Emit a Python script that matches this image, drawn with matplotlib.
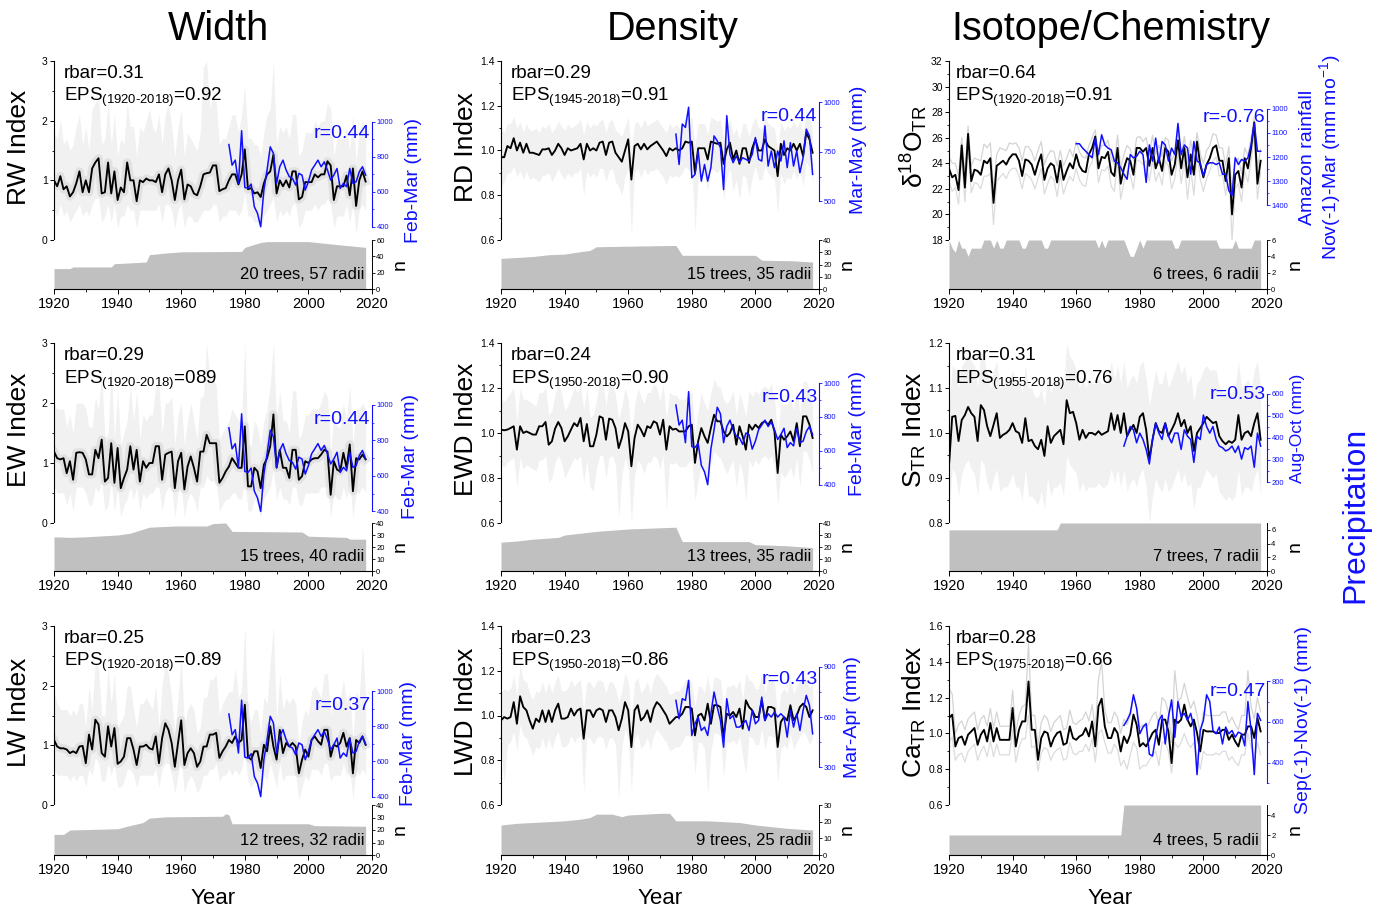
import numpy as np
import matplotlib
matplotlib.use("Agg")
import matplotlib.pyplot as plt
from matplotlib.ticker import MultipleLocator, FixedLocator

plt.rcParams['font.family'] = ['Liberation Sans', 'DejaVu Sans']
plt.rcParams['mathtext.fontset'] = 'custom'
plt.rcParams['mathtext.rm'] = 'Liberation Sans'
plt.rcParams['mathtext.it'] = 'Liberation Sans:italic'
plt.rcParams['mathtext.bf'] = 'Liberation Sans:bold'

YEARS = np.arange(1920, 2019)
PRECIP_YEARS = np.arange(1975, 2019)
AMAZON_YEARS = np.arange(1960, 2019)

# ---- chronologies (mean index, 1920-2018) ----
RW = [1.0, 0.9, 1.07, 0.85, 0.9, 0.73, 0.8, 0.95, 1.15, 0.8,
      1.0, 0.8, 1.2, 1.3, 1.37, 0.78, 0.8, 1.3, 0.78, 1.15,
      0.67, 0.88, 0.8, 1.3, 1.0, 1.0, 0.65, 1.0, 0.97, 1.03,
      1.0, 1.0, 0.97, 1.1, 0.8, 1.1, 1.2, 1.0, 0.67, 1.0,
      1.18, 0.68, 0.93, 0.9, 0.78, 0.75, 0.9, 1.1, 1.12, 1.13,
      1.25, 1.25, 0.82, 0.85, 0.87, 1.0, 1.1, 1.1, 0.93, 1.1,
      1.52, 0.85, 0.87, 0.78, 0.8, 0.72, 0.95, 1.1, 1.15, 1.43,
      0.78, 1.0, 0.9, 1.0, 0.88, 1.15, 1.15, 0.68, 0.72, 0.97,
      0.97, 0.97, 1.1, 1.05, 1.1, 1.1, 1.32, 1.25, 0.67, 0.9,
      0.9, 0.9, 1.08, 0.75, 1.2, 0.57, 1.0, 1.15, 0.98]
RW_HI = [1.8, 1.7, 2.0, 1.6, 1.7, 1.5, 1.6, 1.9, 2.1, 1.6,
         1.9, 1.5, 2.2, 2.3, 2.4, 1.6, 1.7, 2.3, 1.6, 2.1,
         1.4, 1.7, 1.6, 2.3, 1.9, 1.9, 1.4, 1.9, 1.8, 2.0,
         2.2, 1.9, 1.8, 2.1, 1.6, 2.1, 2.3, 1.9, 1.4, 1.9,
         2.2, 1.4, 1.8, 1.7, 1.6, 1.5, 1.8, 2.9, 3.0, 2.2,
         2.4, 2.3, 1.6, 1.7, 1.7, 1.9, 2.1, 2.1, 1.8, 2.1,
         2.6, 1.7, 1.7, 1.6, 1.6, 1.4, 1.8, 2.1, 2.2, 3.0,
         1.6, 1.9, 1.8, 1.9, 1.7, 2.1, 2.1, 1.4, 1.5, 1.8,
         1.8, 1.8, 2.0, 1.9, 2.0, 2.0, 2.3, 2.2, 1.4, 1.7,
         1.7, 1.7, 1.9, 1.5, 2.1, 1.3, 1.8, 2.0, 1.8]
RW_LO = [0.5, 0.4, 0.6, 0.4, 0.5, 0.3, 0.4, 0.5, 0.6, 0.4,
         0.5, 0.4, 0.6, 0.7, 0.7, 0.3, 0.4, 0.6, 0.3, 0.6,
         0.2, 0.4, 0.4, 0.6, 0.5, 0.5, 0.2, 0.5, 0.5, 0.5,
         0.5, 0.5, 0.5, 0.6, 0.3, 0.6, 0.6, 0.5, 0.2, 0.5,
         0.6, 0.2, 0.4, 0.4, 0.3, 0.3, 0.4, 0.5, 0.5, 0.5,
         0.6, 0.6, 0.3, 0.4, 0.4, 0.5, 0.5, 0.5, 0.4, 0.5,
         0.8, 0.4, 0.4, 0.3, 0.3, 0.2, 0.4, 0.5, 0.6, 0.7,
         0.3, 0.5, 0.4, 0.5, 0.4, 0.6, 0.6, 0.2, 0.3, 0.5,
         0.5, 0.5, 0.6, 0.5, 0.6, 0.6, 0.7, 0.6, 0.2, 0.4,
         0.4, 0.4, 0.6, 0.3, 0.6, 0.1, 0.5, 0.6, 0.5]

RD = [0.97, 0.97, 1.02, 1.01, 1.055, 1.0, 1.035, 0.99, 1.03, 0.99,
      0.99, 0.985, 0.98, 1.005, 1.005, 1.01, 0.98, 1.0, 1.03, 1.01,
      0.98, 1.01, 1.0, 1.005, 1.01, 1.03, 0.96, 1.03, 1.0, 1.01,
      1.0, 1.035, 1.04, 0.98, 1.035, 1.04, 0.99, 0.97, 0.95, 1.0,
      1.05, 0.87, 1.02, 1.03, 1.005, 1.03, 1.005, 1.02, 1.03, 1.04,
      1.02, 1.0, 0.975, 1.01, 1.0, 1.01, 1.0, 1.01, 1.04, 1.035,
      1.04, 0.9, 1.01, 1.01, 1.01, 0.96, 1.04, 1.035, 1.03, 1.035,
      0.94, 1.005, 1.035, 0.96, 1.0, 0.94, 1.01, 1.01, 0.945, 1.01,
      1.05, 1.0, 1.0, 1.05, 1.02, 1.01, 1.0, 0.885, 1.03, 0.98,
      1.01, 1.0, 1.03, 1.0, 1.03, 0.975, 1.08, 1.05, 0.99]
RD_HI = [1.10, 1.08, 1.12, 1.12, 1.15, 1.10, 1.13, 1.08, 1.12, 1.09,
         1.09, 1.10, 1.08, 1.11, 1.10, 1.12, 1.08, 1.10, 1.13, 1.11,
         1.09, 1.12, 1.10, 1.11, 1.12, 1.14, 1.07, 1.13, 1.10, 1.12,
         1.11, 1.13, 1.14, 1.08, 1.13, 1.14, 1.09, 1.08, 1.06, 1.11,
         1.15, 1.00, 1.12, 1.13, 1.10, 1.14, 1.11, 1.12, 1.13, 1.14,
         1.12, 1.10, 1.08, 1.12, 1.10, 1.12, 1.10, 1.12, 1.15, 1.14,
         1.15, 1.02, 1.12, 1.12, 1.12, 1.07, 1.15, 1.14, 1.13, 1.14,
         1.05, 1.11, 1.14, 1.07, 1.10, 1.05, 1.12, 1.12, 1.06, 1.12,
         1.15, 1.10, 1.10, 1.16, 1.12, 1.11, 1.10, 1.00, 1.13, 1.09,
         1.11, 1.10, 1.13, 1.10, 1.13, 1.08, 1.18, 1.15, 1.09]
RD_LO = [0.84, 0.86, 0.90, 0.90, 0.93, 0.88, 0.91, 0.87, 0.91, 0.87,
         0.88, 0.87, 0.86, 0.89, 0.89, 0.90, 0.86, 0.89, 0.92, 0.89,
         0.87, 0.90, 0.88, 0.90, 0.90, 0.92, 0.80, 0.91, 0.88, 0.90,
         0.88, 0.92, 0.92, 0.86, 0.91, 0.92, 0.86, 0.84, 0.80, 0.88,
         0.92, 0.62, 0.90, 0.92, 0.88, 0.92, 0.89, 0.91, 0.91, 0.92,
         0.90, 0.88, 0.85, 0.89, 0.88, 0.89, 0.88, 0.90, 0.93, 0.91,
         0.92, 0.64, 0.88, 0.89, 0.89, 0.82, 0.92, 0.91, 0.90, 0.92,
         0.78, 0.88, 0.92, 0.82, 0.87, 0.78, 0.89, 0.88, 0.80, 0.88,
         0.93, 0.87, 0.87, 0.93, 0.90, 0.88, 0.87, 0.72, 0.90, 0.85,
         0.88, 0.87, 0.91, 0.87, 0.91, 0.84, 0.95, 0.92, 0.86]

D18O = [23.6, 22.9, 23.1, 21.9, 25.4, 22.1, 26.3, 22.6, 23.5, 23.4,
        23.1, 24.2, 24.0, 24.4, 20.9, 23.8, 24.0, 24.2, 23.9, 24.4,
        24.7, 24.7, 24.2, 23.0, 24.3, 24.2, 23.9, 23.1, 24.0, 24.7,
        22.7, 23.6, 24.0, 23.8, 22.5, 24.2, 22.7, 23.4, 24.0, 23.6,
        24.7, 23.8, 23.4, 23.3, 24.7, 25.2, 26.1, 23.6, 24.5, 24.4,
        24.9, 23.3, 23.0, 25.2, 22.4, 23.6, 24.4, 24.2, 23.1, 25.2,
        25.2, 24.9, 25.2, 23.8, 25.2, 23.6, 24.4, 23.4, 25.2, 24.9,
        23.1, 23.9, 25.8, 23.6, 25.2, 22.9, 24.7, 23.1, 25.7, 23.9,
        22.9, 23.9, 24.4, 25.2, 25.4, 24.2, 24.2, 22.6, 24.4, 20.0,
        23.1, 23.4, 22.1, 24.4, 23.6, 25.2, 27.2, 22.4, 24.2]
D18O_HI = [24.5, 24.0, 24.0, 23.0, 26.0, 23.2, 26.9, 23.8, 24.4, 24.3,
           24.2, 25.5, 25.2, 25.6, 22.0, 24.7, 25.2, 25.1, 25.0, 25.6,
           25.5, 25.6, 25.2, 24.2, 25.3, 25.3, 24.9, 24.2, 25.0, 25.7,
           23.9, 24.6, 25.0, 24.9, 23.8, 25.0, 23.8, 24.4, 25.1, 24.5,
           25.7, 24.9, 24.5, 24.4, 25.4, 26.0, 26.6, 24.6, 25.4, 25.4,
           25.8, 24.4, 23.9, 26.2, 23.6, 24.7, 25.4, 25.1, 24.2, 26.0,
           26.1, 25.7, 26.0, 24.7, 26.2, 24.7, 25.4, 24.5, 26.0, 25.8,
           24.2, 24.8, 26.6, 24.6, 26.1, 24.0, 25.8, 24.1, 26.4, 24.8,
           24.0, 25.0, 25.4, 26.3, 26.2, 25.2, 25.2, 23.8, 25.3, 21.5,
           24.2, 24.4, 23.2, 25.2, 24.6, 26.0, 27.6, 23.6, 25.1]
D18O_LO = [22.6, 21.8, 22.1, 20.8, 24.4, 21.0, 25.4, 21.7, 22.5, 22.4,
           22.0, 23.0, 23.0, 23.2, 19.2, 22.6, 22.9, 23.2, 22.8, 23.4,
           23.6, 23.6, 23.0, 22.0, 23.2, 23.0, 22.7, 22.0, 22.8, 23.6,
           21.6, 22.4, 23.0, 22.7, 21.4, 23.1, 21.6, 22.4, 23.0, 22.6,
           23.6, 22.7, 22.3, 22.2, 23.6, 24.1, 25.0, 22.5, 23.5, 23.4,
           23.8, 22.2, 21.8, 24.2, 21.2, 22.5, 23.4, 23.1, 22.0, 24.2,
           24.2, 23.9, 24.2, 22.6, 24.2, 22.6, 23.3, 22.3, 24.2, 23.8,
           22.0, 22.8, 24.8, 22.4, 24.2, 21.2, 23.6, 21.5, 24.8, 22.8,
           21.8, 22.8, 23.4, 24.2, 24.5, 23.0, 23.1, 21.5, 23.4, 18.0,
           22.0, 22.4, 21.0, 23.4, 22.5, 24.2, 26.2, 21.2, 23.3]

EW = [1.19, 1.08, 1.06, 1.08, 0.83, 1.03, 0.72, 1.17, 1.18, 1.17,
      1.06, 0.81, 0.81, 1.22, 1.08, 1.39, 0.69, 0.75, 1.33, 0.67,
      1.25, 0.58, 0.75, 0.89, 1.28, 0.89, 1.22, 0.69, 1.03, 0.92,
      1.0, 1.0, 1.28, 1.28, 0.72, 1.14, 1.17, 1.19, 0.58, 1.03,
      1.17, 0.56, 0.94, 1.11, 0.92, 0.69, 1.19, 1.19, 1.47, 1.33,
      1.33, 1.33, 0.67, 0.75, 0.86, 0.94, 1.08, 1.0, 0.92, 0.92,
      1.61, 0.61, 0.61, 0.92, 0.86, 0.58, 0.97, 1.08, 1.28, 1.81,
      0.92, 1.22, 0.92, 0.92, 0.75, 1.22, 1.22, 0.72, 0.78, 1.03,
      1.0, 1.06, 1.08, 1.08, 1.14, 1.22, 1.19, 0.47, 1.03, 0.89,
      0.86, 1.17, 0.92, 1.31, 0.53, 1.08, 1.06, 1.14, 1.06]
EW_HI = [2.0, 1.9, 1.9, 1.9, 1.6, 1.8, 1.5, 2.0, 2.0, 2.0,
         1.9, 1.6, 1.6, 2.1, 1.9, 2.5, 1.4, 1.5, 2.6, 1.4,
         2.2, 1.3, 1.5, 1.7, 2.3, 1.7, 2.2, 1.4, 1.8, 1.7,
         1.8, 1.8, 2.3, 2.3, 1.5, 2.0, 2.0, 2.1, 1.3, 1.8,
         2.0, 1.3, 1.7, 2.0, 1.7, 1.4, 2.1, 2.1, 3.0, 2.4,
         2.4, 2.3, 1.4, 1.5, 1.6, 1.7, 1.9, 1.8, 1.7, 1.7,
         3.0, 1.3, 1.3, 1.7, 1.6, 1.3, 1.7, 1.9, 2.3, 3.0,
         1.7, 2.2, 1.7, 1.7, 1.5, 2.2, 2.2, 1.4, 1.5, 1.8,
         1.8, 1.9, 1.9, 1.9, 2.0, 2.2, 2.1, 1.2, 1.8, 1.6,
         1.6, 2.0, 1.7, 2.3, 1.3, 1.9, 1.9, 2.0, 1.9]
EW_LO = [0.6, 0.5, 0.5, 0.5, 0.3, 0.5, 0.2, 0.6, 0.6, 0.6,
         0.5, 0.3, 0.3, 0.6, 0.5, 0.7, 0.2, 0.3, 0.7, 0.2,
         0.6, 0.1, 0.3, 0.4, 0.6, 0.4, 0.6, 0.2, 0.5, 0.4,
         0.5, 0.5, 0.6, 0.6, 0.2, 0.5, 0.6, 0.6, 0.1, 0.5,
         0.6, 0.1, 0.4, 0.5, 0.4, 0.2, 0.6, 0.6, 0.8, 0.7,
         0.7, 0.7, 0.2, 0.3, 0.4, 0.4, 0.5, 0.5, 0.4, 0.4,
         0.8, 0.2, 0.2, 0.4, 0.3, 0.1, 0.4, 0.5, 0.6, 0.9,
         0.4, 0.6, 0.4, 0.4, 0.3, 0.6, 0.6, 0.3, 0.3, 0.5,
         0.5, 0.5, 0.5, 0.5, 0.6, 0.6, 0.6, 0.1, 0.5, 0.4,
         0.4, 0.6, 0.4, 0.7, 0.1, 0.5, 0.5, 0.6, 0.5]

EWD = [1.015, 1.012, 1.015, 1.022, 1.03, 0.926, 1.03, 1.0, 1.007, 1.0,
       0.993, 0.993, 1.03, 1.03, 1.049, 0.948, 0.963, 1.019, 1.049, 1.022,
       0.963, 0.985, 1.015, 1.044, 1.03, 1.067, 0.963, 1.04, 0.941, 0.941,
       0.993, 1.074, 1.067, 0.97, 1.064, 1.059, 1.022, 0.933, 0.978, 1.044,
       1.007, 0.852, 0.978, 1.037, 1.015, 0.985, 1.03, 1.022, 1.052, 1.044,
       0.993, 1.059, 0.926, 1.03, 1.015, 1.019, 1.007, 1.007, 1.007, 1.03,
       1.037, 0.867, 0.963, 1.022, 0.985, 0.956, 1.022, 1.081, 1.052, 1.052,
       1.007, 0.985, 1.0, 1.037, 0.948, 1.03, 0.985, 0.926, 1.037, 1.015,
       1.037, 1.022, 1.044, 1.052, 1.037, 1.059, 1.007, 0.822, 0.993, 0.97,
       0.985, 1.007, 0.963, 1.044, 0.941, 1.074, 1.074, 1.037, 0.978]
EWD_HI = [1.15, 1.14, 1.16, 1.18, 1.20, 1.05, 1.20, 1.15, 1.15, 1.14,
          1.13, 1.12, 1.18, 1.18, 1.20, 1.08, 1.10, 1.17, 1.22, 1.18,
          1.10, 1.12, 1.16, 1.20, 1.18, 1.22, 1.10, 1.20, 1.07, 1.08,
          1.14, 1.24, 1.23, 1.12, 1.22, 1.22, 1.17, 1.06, 1.12, 1.20,
          1.15, 0.98, 1.12, 1.20, 1.16, 1.13, 1.18, 1.18, 1.22, 1.20,
          1.14, 1.22, 1.06, 1.18, 1.17, 1.17, 1.15, 1.15, 1.15, 1.18,
          1.18, 1.00, 1.10, 1.18, 1.13, 1.10, 1.18, 1.24, 1.21, 1.20,
          1.15, 1.13, 1.15, 1.19, 1.08, 1.18, 1.13, 1.07, 1.19, 1.16,
          1.19, 1.17, 1.20, 1.21, 1.19, 1.22, 1.15, 0.98, 1.14, 1.12,
          1.13, 1.15, 1.10, 1.20, 1.08, 1.23, 1.23, 1.19, 1.12]
EWD_LO = [0.86, 0.85, 0.87, 0.88, 0.89, 0.76, 0.89, 0.84, 0.86, 0.85,
          0.84, 0.83, 0.88, 0.88, 0.90, 0.78, 0.80, 0.87, 0.90, 0.87,
          0.80, 0.83, 0.86, 0.89, 0.88, 0.90, 0.78, 0.88, 0.76, 0.74,
          0.84, 0.90, 0.90, 0.80, 0.89, 0.90, 0.86, 0.62, 0.81, 0.89,
          0.85, 0.60, 0.81, 0.88, 0.86, 0.82, 0.87, 0.87, 0.90, 0.89,
          0.84, 0.90, 0.66, 0.87, 0.86, 0.87, 0.85, 0.85, 0.85, 0.87,
          0.88, 0.70, 0.79, 0.87, 0.83, 0.78, 0.87, 0.92, 0.90, 0.89,
          0.85, 0.82, 0.85, 0.88, 0.76, 0.87, 0.82, 0.70, 0.88, 0.85,
          0.88, 0.86, 0.89, 0.90, 0.88, 0.90, 0.85, 0.68, 0.83, 0.80,
          0.82, 0.85, 0.80, 0.89, 0.76, 0.92, 0.92, 0.88, 0.82]

STR = [0.927, 1.036, 1.038, 0.982, 1.029, 1.04, 1.058, 1.044, 1.036, 0.982,
       1.062, 1.051, 1.015, 0.993, 1.018, 1.044, 0.989, 0.996, 1.0, 1.007,
       1.022, 1.004, 1.0, 0.978, 1.033, 0.982, 0.985, 0.971, 0.964, 0.985,
       0.949, 1.015, 0.978, 0.993, 1.0, 1.007, 0.975, 1.073, 1.044, 1.047,
       1.022, 0.985, 1.007, 0.989, 1.0, 1.0, 0.996, 1.004, 0.996, 1.0,
       1.004, 1.044, 1.007, 1.04, 1.0, 1.044, 0.993, 1.007, 1.018, 1.0,
       1.036, 1.044, 1.007, 0.942, 0.985, 1.022, 1.004, 1.0, 1.022, 0.993,
       1.007, 1.022, 1.044, 1.015, 1.029, 1.0, 1.015, 0.96, 1.0, 1.011,
       1.022, 1.036, 1.029, 1.022, 1.025, 0.993, 0.982, 0.975, 0.982, 0.978,
       0.985, 1.04, 0.985, 1.0, 1.004, 0.993, 1.022, 1.044, 0.985]
STR_HI = [1.05, 1.15, 1.14, 1.10, 1.15, 1.16, 1.18, 1.16, 1.15, 1.10,
          1.18, 1.17, 1.13, 1.10, 1.14, 1.16, 1.10, 1.11, 1.12, 1.12,
          1.14, 1.12, 1.12, 1.09, 1.15, 1.10, 1.10, 1.08, 1.08, 1.10,
          1.06, 1.13, 1.09, 1.11, 1.12, 1.12, 1.10, 1.20, 1.17, 1.16,
          1.14, 1.10, 1.12, 1.10, 1.12, 1.11, 1.11, 1.12, 1.11, 1.11,
          1.12, 1.16, 1.12, 1.15, 1.11, 1.16, 1.10, 1.12, 1.13, 1.11,
          1.15, 1.16, 1.12, 1.06, 1.10, 1.14, 1.11, 1.11, 1.14, 1.10,
          1.12, 1.14, 1.16, 1.13, 1.15, 1.11, 1.13, 1.07, 1.11, 1.12,
          1.14, 1.15, 1.14, 1.14, 1.14, 1.10, 1.09, 1.09, 1.09, 1.09,
          1.10, 1.16, 1.10, 1.11, 1.12, 1.10, 1.14, 1.16, 1.10]
STR_LO = [0.82, 0.92, 0.91, 0.86, 0.91, 0.93, 0.94, 0.92, 0.91, 0.86,
          0.94, 0.93, 0.89, 0.87, 0.90, 0.92, 0.87, 0.88, 0.88, 0.89,
          0.91, 0.88, 0.88, 0.85, 0.92, 0.86, 0.86, 0.85, 0.84, 0.87,
          0.83, 0.90, 0.86, 0.88, 0.88, 0.89, 0.86, 0.95, 0.93, 0.92,
          0.91, 0.87, 0.89, 0.87, 0.88, 0.88, 0.88, 0.89, 0.88, 0.88,
          0.89, 0.92, 0.89, 0.92, 0.88, 0.92, 0.87, 0.89, 0.90, 0.88,
          0.91, 0.92, 0.88, 0.80, 0.86, 0.90, 0.88, 0.87, 0.90, 0.87,
          0.88, 0.90, 0.92, 0.89, 0.91, 0.88, 0.89, 0.83, 0.88, 0.88,
          0.90, 0.92, 0.91, 0.90, 0.91, 0.87, 0.86, 0.85, 0.86, 0.85,
          0.86, 0.92, 0.86, 0.88, 0.88, 0.87, 0.90, 0.92, 0.86]

LW = [1.09, 0.98, 0.95, 0.95, 0.93, 0.87, 0.9, 0.87, 0.98, 0.99,
      0.7, 1.18, 0.93, 1.43, 1.35, 0.87, 0.81, 1.32, 0.98, 1.29,
      0.69, 0.73, 0.81, 1.12, 1.12, 0.93, 0.67, 0.98, 0.98, 1.01,
      0.95, 0.93, 1.15, 0.7, 1.12, 1.37, 1.26, 1.04, 0.64, 1.04,
      1.42, 0.67, 0.87, 0.95, 0.87, 0.64, 0.73, 0.98, 0.98, 1.18,
      1.18, 1.21, 0.79, 0.9, 0.98, 1.09, 1.04, 1.15, 1.04, 1.09,
      1.68, 0.81, 0.76, 0.9, 0.9, 0.62, 1.01, 0.9, 1.32, 0.98,
      0.76, 1.26, 0.87, 1.04, 0.98, 1.04, 0.98, 0.53, 0.76, 0.93,
      0.81, 1.09, 1.15, 1.07, 1.01, 1.26, 1.26, 0.81, 1.01, 0.98,
      1.04, 1.21, 0.98, 1.12, 0.53, 1.09, 1.04, 1.15, 1.01]
LW_HI = [1.9, 1.7, 1.6, 1.6, 1.6, 1.5, 1.6, 1.5, 1.7, 1.7,
         1.3, 2.0, 1.6, 2.4, 2.3, 1.5, 1.5, 2.3, 1.7, 2.2,
         1.3, 1.4, 1.5, 2.0, 2.0, 1.6, 1.3, 1.7, 1.7, 1.8,
         1.7, 1.6, 2.0, 1.3, 2.0, 2.4, 2.2, 1.8, 1.2, 1.8,
         2.5, 1.3, 1.6, 1.7, 1.6, 1.2, 1.3, 1.8, 1.8, 2.1,
         2.1, 2.2, 1.5, 1.7, 1.8, 1.9, 1.9, 2.3, 1.8, 1.9,
         3.0, 1.5, 1.4, 1.6, 1.6, 1.2, 1.8, 1.7, 2.4, 3.0,
         1.4, 2.2, 1.6, 1.8, 1.7, 1.8, 1.7, 1.0, 1.4, 1.6,
         1.5, 1.9, 2.0, 1.9, 1.8, 2.2, 2.2, 1.5, 1.8, 1.7,
         1.8, 2.1, 1.7, 1.9, 1.1, 1.9, 1.8, 2.7, 1.8]
LW_LO = [0.6, 0.5, 0.5, 0.5, 0.5, 0.4, 0.5, 0.4, 0.5, 0.5,
         0.3, 0.6, 0.5, 0.8, 0.7, 0.4, 0.4, 0.7, 0.5, 0.7,
         0.3, 0.3, 0.4, 0.6, 0.6, 0.5, 0.3, 0.5, 0.5, 0.5,
         0.5, 0.5, 0.6, 0.3, 0.6, 0.7, 0.7, 0.5, 0.2, 0.5,
         0.8, 0.2, 0.4, 0.5, 0.4, 0.2, 0.3, 0.5, 0.5, 0.6,
         0.6, 0.7, 0.4, 0.5, 0.5, 0.6, 0.5, 0.6, 0.5, 0.6,
         0.9, 0.4, 0.3, 0.4, 0.4, 0.2, 0.5, 0.4, 0.7, 0.5,
         0.3, 0.7, 0.4, 0.5, 0.5, 0.5, 0.5, 0.1, 0.3, 0.5,
         0.4, 0.6, 0.6, 0.6, 0.5, 0.7, 0.7, 0.4, 0.5, 0.5,
         0.5, 0.7, 0.5, 0.6, 0.1, 0.6, 0.5, 0.6, 0.5]

LWD = [0.978, 0.993, 0.986, 0.993, 1.06, 0.963, 1.086, 1.038, 1.023, 0.978,
       0.941, 0.986, 0.971, 1.023, 0.971, 1.023, 0.971, 1.023, 1.053, 0.986,
       0.986, 0.993, 1.031, 1.0, 1.023, 1.031, 0.896, 1.023, 1.023, 0.993,
       1.023, 1.031, 1.023, 0.971, 1.023, 1.023, 0.993, 0.934, 0.986, 1.06,
       1.023, 0.859, 1.023, 1.046, 0.978, 0.993, 1.023, 0.971, 1.031, 1.06,
       1.046, 1.023, 1.0, 0.963, 0.978, 0.993, 0.993, 1.008, 1.038, 1.038,
       1.031, 0.911, 1.0, 1.008, 0.978, 1.053, 0.963, 1.046, 1.046, 1.038,
       0.904, 1.008, 1.0, 1.016, 0.993, 1.031, 0.941, 1.068, 1.038, 1.023,
       0.993, 0.993, 1.068, 0.978, 1.038, 1.038, 1.031, 0.859, 0.971, 0.993,
       0.978, 1.046, 0.978, 1.0, 1.038, 1.053, 1.038, 0.993, 1.023]
LWD_HI = [1.10, 1.12, 1.11, 1.12, 1.18, 1.09, 1.22, 1.16, 1.15, 1.10,
          1.07, 1.11, 1.10, 1.15, 1.10, 1.15, 1.10, 1.15, 1.18, 1.11,
          1.11, 1.12, 1.16, 1.13, 1.15, 1.16, 1.02, 1.15, 1.15, 1.12,
          1.15, 1.16, 1.15, 1.10, 1.15, 1.15, 1.12, 1.06, 1.11, 1.19,
          1.15, 0.99, 1.15, 1.17, 1.10, 1.12, 1.15, 1.10, 1.16, 1.19,
          1.17, 1.15, 1.13, 1.09, 1.10, 1.11, 1.11, 1.13, 1.16, 1.16,
          1.15, 1.04, 1.13, 1.13, 1.10, 1.18, 1.09, 1.17, 1.17, 1.16,
          1.03, 1.13, 1.13, 1.14, 1.12, 1.16, 1.07, 1.19, 1.16, 1.15,
          1.12, 1.12, 1.19, 1.10, 1.16, 1.16, 1.15, 0.99, 1.10, 1.12,
          1.10, 1.17, 1.10, 1.13, 1.16, 1.18, 1.16, 1.12, 1.15]
LWD_LO = [0.86, 0.70, 0.87, 0.88, 0.93, 0.84, 0.96, 0.91, 0.90, 0.86,
          0.82, 0.86, 0.85, 0.90, 0.85, 0.90, 0.85, 0.90, 0.93, 0.86,
          0.86, 0.87, 0.91, 0.88, 0.90, 0.91, 0.66, 0.90, 0.90, 0.87,
          0.90, 0.91, 0.90, 0.85, 0.90, 0.90, 0.87, 0.62, 0.86, 0.94,
          0.90, 0.66, 0.90, 0.92, 0.85, 0.87, 0.90, 0.85, 0.91, 0.94,
          0.92, 0.90, 0.88, 0.84, 0.85, 0.86, 0.86, 0.88, 0.91, 0.91,
          0.90, 0.74, 0.88, 0.88, 0.85, 0.65, 0.84, 0.92, 0.92, 0.91,
          0.72, 0.88, 0.88, 0.89, 0.87, 0.91, 0.82, 0.74, 0.91, 0.90,
          0.87, 0.87, 0.94, 0.85, 0.91, 0.91, 0.90, 0.70, 0.85, 0.87,
          0.85, 0.92, 0.85, 0.88, 0.91, 0.93, 0.91, 0.87, 0.90]

CA = [1.086, 1.105, 0.927, 0.974, 0.983, 0.936, 0.993, 1.011, 1.03, 0.936,
      0.993, 1.02, 0.955, 1.058, 0.955, 1.03, 0.964, 0.964, 0.964, 0.964,
      1.142, 0.927, 1.02, 1.067, 1.067, 1.29, 1.02, 1.02, 0.852, 0.974,
      1.011, 1.002, 0.927, 0.974, 1.002, 1.011, 0.936, 0.946, 1.039, 0.974,
      0.964, 0.983, 0.993, 1.03, 0.983, 1.067, 0.927, 1.151, 1.194, 1.039,
      0.974, 0.974, 1.03, 1.002, 0.899, 0.983, 0.946, 0.993, 1.105, 1.049,
      0.927, 0.946, 0.927, 0.964, 1.002, 1.02, 0.936, 1.077, 1.077, 1.011,
      0.834, 1.077, 1.058, 1.077, 1.161, 1.077, 1.039, 1.077, 1.002, 0.899,
      1.02, 1.011, 1.011, 1.011, 1.002, 1.002, 1.02, 1.02, 0.964, 0.993,
      0.955, 0.927, 0.993, 0.993, 1.039, 1.039, 0.974, 1.086, 1.011]
CA_HI = [1.25, 1.22, 1.00, 1.05, 1.07, 1.02, 1.08, 1.10, 1.12, 1.02,
         1.08, 1.10, 1.04, 1.14, 1.03, 1.12, 1.04, 1.04, 1.04, 1.04,
         1.24, 1.01, 1.10, 1.15, 1.16, 1.50, 1.10, 1.10, 0.93, 1.06,
         1.10, 1.08, 1.01, 1.06, 1.08, 1.10, 1.02, 1.03, 1.13, 1.06,
         1.05, 1.07, 1.08, 1.12, 1.07, 1.16, 1.02, 1.30, 1.40, 1.13,
         1.06, 1.06, 1.12, 1.09, 1.00, 1.08, 1.05, 1.10, 1.20, 1.15,
         1.03, 1.05, 1.03, 1.06, 1.10, 1.12, 1.04, 1.20, 1.18, 1.12,
         0.95, 1.35, 1.18, 1.20, 1.28, 1.20, 1.14, 1.18, 1.10, 1.00,
         1.12, 1.10, 1.10, 1.10, 1.10, 1.10, 1.12, 1.12, 1.06, 1.09,
         1.05, 1.02, 1.10, 1.10, 1.35, 1.15, 1.08, 1.20, 1.12]
CA_LO = [0.95, 0.98, 0.85, 0.88, 0.89, 0.84, 0.90, 0.92, 0.94, 0.85,
         0.90, 0.93, 0.87, 0.96, 0.87, 0.94, 0.88, 0.88, 0.88, 0.88,
         1.02, 0.84, 0.92, 0.97, 0.97, 1.10, 0.92, 0.93, 0.79, 0.89,
         0.92, 0.91, 0.85, 0.89, 0.91, 0.92, 0.85, 0.86, 0.95, 0.89,
         0.88, 0.90, 0.90, 0.94, 0.90, 0.97, 0.84, 1.00, 1.02, 0.95,
         0.89, 0.89, 0.94, 0.91, 0.82, 0.85, 0.80, 0.88, 0.95, 0.92,
         0.80, 0.82, 0.82, 0.85, 0.88, 0.90, 0.82, 0.95, 0.95, 0.90,
         0.78, 0.95, 0.92, 0.95, 1.00, 0.95, 0.92, 0.95, 0.88, 0.80,
         0.90, 0.88, 0.88, 0.88, 0.89, 0.88, 0.90, 0.90, 0.85, 0.87,
         0.84, 0.82, 0.88, 0.88, 1.00, 0.92, 0.85, 0.95, 0.88]

# ---- precipitation (mm) ----
FEB_MAR = [870, 752, 781, 648, 949, 625, 619, 644, 514, 476,
           400, 610, 724, 857, 819, 648, 743, 781, 724, 686,
           676, 638, 705, 695, 610, 657, 724, 752, 781, 743,
           771, 724, 667, 695, 733, 619, 648, 629, 733, 648,
           657, 714, 743, 695]
MAR_MAY = [839, 686, 890, 873, 975, 619, 636, 754, 602, 686,
           602, 670, 830, 805, 771, 559, 932, 737, 695, 729,
           695, 720, 712, 703, 737, 822, 712, 703, 881, 678,
           754, 670, 754, 703, 805, 670, 796, 678, 754, 644,
           720, 864, 830, 636]
AUG_OCT = [363, 408, 452, 437, 378, 422, 393, 348, 282, 393,
           467, 422, 393, 467, 408, 378, 422, 422, 348, 437,
           408, 393, 289, 408, 393, 504, 452, 422, 452, 393,
           363, 356, 341, 348, 363, 334, 363, 304, 356, 348,
           363, 267, 422, 363]
MAR_APR = [700, 590, 710, 700, 820, 490, 560, 600, 520, 540,
           490, 620, 750, 660, 580, 420, 710, 590, 610, 540,
           540, 560, 580, 520, 640, 560, 580, 720, 580, 620,
           600, 630, 600, 620, 600, 480, 640, 540, 620, 520,
           640, 730, 670, 500]
SEP_NOV = [583, 608, 642, 733, 667, 542, 575, 592, 442, 433,
           525, 608, 633, 492, 625, 708, 525, 700, 625, 642,
           608, 642, 575, 342, 558, 608, 733, 700, 558, 542,
           575, 492, 575, 542, 558, 525, 550, 542, 483, 700,
           558, 342, 642, 608]
AMAZON_NOV_MAR = [1145, 1145, 1163, 1176, 1190, 1203, 1122, 1190, 1108, 1150,
                  1163, 1170, 1217, 1224, 1244, 1271, 1292, 1190, 1203, 1197,
                  1176, 1190, 1305, 1150, 1217, 1122, 1224, 1136, 1150, 1217,
                  1163, 1190, 1061, 1190, 1150, 1163, 1271, 1136, 1217, 1224,
                  1278, 1231, 1224, 1224, 1231, 1224, 1271, 1271, 1339, 1359,
                  1203, 1231, 1210, 1217, 1203, 1150, 1061, 1176, 1176]

# ---- sample depth ----
RW_N_YR = [1920, 1925, 1926, 1938, 1939, 1949, 1950, 1955, 1960, 1979, 1980, 1985, 1987, 2000, 2005, 2010, 2018]
RW_N = [25, 25, 27, 27, 31, 33, 42, 44, 45.5, 46, 51, 57, 58, 58, 56, 54, 51]
RD_N_YR = [1920, 1930, 1935, 1940, 1945, 1948, 1950, 1973, 1975, 1977, 2000, 2002, 2012, 2018]
RD_N = [25, 26.5, 28, 28.5, 30.5, 31.5, 34.5, 35.5, 35.5, 27.5, 27.5, 23.5, 23, 22]
D18O_N = [6, 5, 4.5, 6, 5, 5, 4, 5, 5, 5,
          5, 6, 6, 6, 5, 6, 5, 5, 6, 6,
          6, 6, 6, 5, 5, 6, 6, 6, 6, 6,
          5, 5, 6, 6, 6, 6, 6, 6, 6, 6,
          6, 6, 6, 6, 6, 6, 6, 5, 6, 5,
          6, 6, 6, 6, 6, 6, 5, 4, 4, 5,
          6, 5, 6, 6, 6, 6, 6, 6, 6, 6,
          6, 5, 5, 6, 6, 6, 6, 6, 6, 6,
          6, 6, 6, 6, 6, 5, 5, 5, 5, 5,
          6, 5, 5, 5, 5, 5, 6, 6, 6]
EW_N_YR = [1920, 1925, 1930, 1940, 1944, 1950, 1958, 1968, 1970, 1974, 1976, 1998, 2000, 2012, 2013, 2018]
EW_N = [28.5, 28, 28.5, 30, 31.5, 36.5, 37.5, 37.5, 39.5, 40, 33, 32.5, 29, 28, 26.5, 26.5]
EWD_N_YR = [1920, 1925, 1930, 1938, 1940, 1950, 1960, 1975, 1977, 1998, 2000, 2010, 2018]
EWD_N = [24, 25, 26.5, 28, 30, 33, 35, 36.5, 24.5, 24.5, 22, 21, 19.5]
STR_N_YR = [1920, 1954, 1955, 2018]
STR_N = [6, 6, 7, 7]
LW_N_YR = [1920, 1923, 1925, 1940, 1943, 1948, 1950, 1955, 1973, 1974, 1975, 1976, 2000, 2002, 2018]
LW_N = [16.5, 16.5, 20, 21, 23, 26, 29.5, 30.5, 31, 33, 32, 25, 25, 23.5, 23]
LWD_N_YR = [1920, 1925, 1930, 1940, 1945, 1948, 1950, 1955, 1958, 1960, 1970, 1973, 1975, 1985, 1990, 1995, 2000, 2005, 2010, 2018]
LWD_N = [18, 19, 19.5, 20.5, 21.5, 22.5, 24.5, 24.5, 23, 24, 25, 25, 20.5, 20.5, 20, 19.5, 18, 17, 16, 15]
CA_N_YR = [1920, 1974, 1975, 2018]
CA_N = [2, 2, 5, 5]

BLUE = '#1010ff'

PANELS = [
    dict(row=0, col=0, chron=RW, hi=RW_HI, lo=RW_LO, haze='band', core=True,
         ylim=(0, 3), major=1, minor=0.5, ylabel='RW Index',
         rbar='rbar=0.31', eps=r'EPS$_{(1920\text{-}2018)}$=0.92',
         px=PRECIP_YEARS, pv=FEB_MAR, plabel='Feb-Mar (mm)', r='r=0.44',
         plim=(324, 1348), pbounds=(400, 1000), pticks=[400, 600, 800, 1000], pminor=100,
         lab_xy=(1.132, 0.335), r_y=0.64,
         nx=RW_N_YR, nv=RW_N, nlim=(0, 60), nticks=[0, 20, 40, 60], ntext='20 trees, 57 radii'),
    dict(row=0, col=1, chron=RD, hi=RD_HI, lo=RD_LO, haze='band', core=False,
         ylim=(0.6, 1.4), major=0.2, minor=0.1, ylabel='RD Index',
         rbar='rbar=0.29', eps=r'EPS$_{(1945\text{-}2018)}$=0.91',
         px=PRECIP_YEARS, pv=MAR_MAY, plabel='Mar-May (mm)', r='r=0.44',
         plim=(305, 1208), pbounds=(500, 1000), pticks=[500, 750, 1000], pminor=125,
         lab_xy=(1.123, 0.503), r_y=0.74,
         nx=RD_N_YR, nv=RD_N, nlim=(0, 40), nticks=[0, 10, 20, 30, 40], ntext='15 trees, 35 radii'),
    dict(row=0, col=2, chron=D18O, hi=D18O_HI, lo=D18O_LO, haze='lines', core=False,
         ylim=(18, 32), major=2, minor=1, ylabel='δ$^{18}$O$_{\\mathrm{TR}}$',
         rbar='rbar=0.64', eps=r'EPS$_{(1920\text{-}2018)}$=0.91',
         px=AMAZON_YEARS, pv=AMAZON_NOV_MAR,
         plabel='Amazon rainfall\nNov(-1)-Mar (mm mo$^{-1}$)', r='r=-0.76',
         plim=(1543, 803), pbounds=(1000, 1400), pticks=[1000, 1100, 1200, 1300, 1400], pminor=50,
         lab_xy=(1.17, 0.46), r_y=0.73,
         nx=YEARS, nv=D18O_N, nlim=(0, 6), nticks=[0, 2, 4, 6], ntext='6 trees, 6 radii'),
    dict(row=1, col=0, chron=EW, hi=EW_HI, lo=EW_LO, haze='band', core=True,
         ylim=(0, 3), major=1, minor=0.5, ylabel='EW Index',
         rbar='rbar=0.29', eps=r'EPS$_{(1920\text{-}2018)}$=089',
         px=PRECIP_YEARS, pv=FEB_MAR, plabel='Feb-Mar (mm)', r='r=0.44',
         plim=(335, 1347), pbounds=(400, 1000), pticks=[400, 600, 800, 1000], pminor=100,
         lab_xy=(1.12, 0.367), r_y=0.625,
         nx=EW_N_YR, nv=EW_N, nlim=(0, 40), nticks=[0, 10, 20, 30, 40], ntext='15 trees, 40 radii'),
    dict(row=1, col=1, chron=EWD, hi=EWD_HI, lo=EWD_LO, haze='band', core=False,
         ylim=(0.6, 1.4), major=0.2, minor=0.1, ylabel='EWD Index',
         rbar='rbar=0.24', eps=r'EPS$_{(1950\text{-}2018)}$=0.90',
         px=PRECIP_YEARS, pv=FEB_MAR, plabel='Feb-Mar (mm)', r='r=0.43',
         plim=(174, 1236), pbounds=(400, 1000), pticks=[400, 600, 800, 1000], pminor=100,
         lab_xy=(1.12, 0.5), r_y=0.745,
         nx=EWD_N_YR, nv=EWD_N, nlim=(0, 40), nticks=[0, 10, 20, 30, 40], ntext='13 trees, 35 radii'),
    dict(row=1, col=2, chron=STR, hi=STR_HI, lo=STR_LO, haze='band', core=False,
         ylim=(0.8, 1.2), major=0.1, minor=0.05, ylabel='S$_{\\mathrm{TR}}$ Index',
         rbar='rbar=0.31', eps=r'EPS$_{(1955\text{-}2018)}$=0.76',
         px=PRECIP_YEARS, pv=AUG_OCT, plabel='Aug-Oct (mm)', r='r=0.53',
         plim=(14, 831), pbounds=(200, 600), pticks=[200, 300, 400, 500, 600], pminor=50,
         lab_xy=(1.097, 0.527), r_y=0.76,
         nx=STR_N_YR, nv=STR_N, nlim=(0, 7), nticks=[0, 2, 4, 6], ntext='7 trees, 7 radii'),
    dict(row=2, col=0, chron=LW, hi=LW_HI, lo=LW_LO, haze='band', core=True,
         ylim=(0, 3), major=1, minor=0.5, ylabel='LW Index',
         rbar='rbar=0.25', eps=r'EPS$_{(1920\text{-}2018)}$=0.89',
         px=PRECIP_YEARS, pv=FEB_MAR, plabel='Feb-Mar (mm)', r='r=0.37',
         plim=(352, 1371), pbounds=(400, 1000), pticks=[400, 600, 800, 1000], pminor=100,
         lab_xy=(1.116, 0.346), r_y=0.605,
         nx=LW_N_YR, nv=LW_N, nlim=(0, 40), nticks=[0, 10, 20, 30, 40], ntext='12 trees, 32 radii'),
    dict(row=2, col=1, chron=LWD, hi=LWD_HI, lo=LWD_LO, haze='band', core=False,
         ylim=(0.6, 1.4), major=0.2, minor=0.1, ylabel='LWD Index',
         rbar='rbar=0.23', eps=r'EPS$_{(1950\text{-}2018)}$=0.86',
         px=PRECIP_YEARS, pv=MAR_APR, plabel='Mar-Apr (mm)', r='r=0.43',
         plim=(74, 1145), pbounds=(300, 900), pticks=[300, 600, 900], pminor=150,
         lab_xy=(1.104, 0.49), r_y=0.75,
         nx=LWD_N_YR, nv=LWD_N, nlim=(0, 30), nticks=[0, 10, 20, 30], ntext='9 trees, 25 radii'),
    dict(row=2, col=2, chron=CA, hi=CA_HI, lo=CA_LO, haze='lines', core=False,
         ylim=(0.6, 1.6), major=0.2, minor=0.1, ylabel='Ca$_{\\mathrm{TR}}$ Index',
         rbar='rbar=0.28', eps=r'EPS$_{(1975\text{-}2018)}$=0.66',
         px=PRECIP_YEARS, pv=SEP_NOV, plabel='Sep(-1)-Nov(-1) (mm)', r='r=0.47',
         plim=(193, 1070), pbounds=(300, 800), pticks=[400, 600, 800], pminor=100,
         lab_xy=(1.116, 0.475), r_y=0.68,
         nx=CA_N_YR, nv=CA_N, nlim=(0, 5), nticks=[0, 2, 4], ntext='4 trees, 5 radii'),
]

FIG_W, FIG_H = 1384, 911
COL_LEFT = [54, 501, 949]
PANEL_W = 318
ROW_PX = [(61, 240, 289), (343, 523, 571), (626, 805, 855)]


def rect(left, top, right, bottom):
    return [left / FIG_W, 1 - bottom / FIG_H, (right - left) / FIG_W, (bottom - top) / FIG_H]


fig = plt.figure(figsize=(FIG_W / 100, FIG_H / 100), dpi=100)

for p in PANELS:
    left = COL_LEFT[p['col']]
    top, mid, bottom = ROW_PX[p['row']]
    ax = fig.add_axes(rect(left, top, left + PANEL_W, mid))
    axd = fig.add_axes(rect(left, mid, left + PANEL_W, bottom))

    # spread of the individual series, then the mean chronology
    if p['haze'] == 'band':
        ax.fill_between(YEARS, p['lo'], p['hi'], color='#f1f1f1', lw=0)
        if p['core']:
            ax.plot(YEARS, p['chron'], color='#c4c4c4', lw=6, alpha=0.35)
    else:
        ax.plot(YEARS, p['hi'], color='#d4d4d4', lw=0.9)
        ax.plot(YEARS, p['lo'], color='#dcdcdc', lw=0.9)
    ax.plot(YEARS, p['chron'], color='black', lw=1.35)

    ax.set_xlim(1920, 2020)
    ax.set_ylim(*p['ylim'])
    ax.set_xticks([])
    for s in ('top', 'right', 'bottom'):
        ax.spines[s].set_visible(False)
    ax.spines['left'].set_linewidth(0.8)
    ax.yaxis.set_major_locator(MultipleLocator(p['major']))
    ax.yaxis.set_minor_locator(MultipleLocator(p['minor']))
    ax.tick_params(axis='y', which='major', labelsize=7.5, length=3, width=0.7, pad=1.5)
    ax.tick_params(axis='y', which='minor', length=1.8, width=0.6)
    ax.text(-0.11, 0.52, p['ylabel'], rotation=90, ha='center', va='center',
            fontsize=19, transform=ax.transAxes)

    x_txt = 0.02 if p['col'] == 2 else 0.03
    ax.text(x_txt, 0.905, p['rbar'], fontsize=13.5, va='baseline', transform=ax.transAxes)
    ax.text(x_txt, 0.775, p['eps'], fontsize=13.5, va='baseline', transform=ax.transAxes)

    # precipitation on a twin axis, spine limited to the data range
    ax2 = ax.twinx()
    ax2.plot(p['px'], p['pv'], color=BLUE, lw=1.1)
    ax2.set_xlim(1920, 2020)
    for s in ('top', 'left', 'bottom'):
        ax2.spines[s].set_visible(False)
    lo_b, hi_b = p['pbounds']
    ax2.spines['right'].set_color(BLUE)
    ax2.spines['right'].set_linewidth(0.8)
    ax2.spines['right'].set_bounds(lo_b, hi_b)
    ax2.yaxis.set_major_locator(FixedLocator(p['pticks']))
    ax2.yaxis.set_minor_locator(FixedLocator(np.arange(lo_b, hi_b + 1, p['pminor'])))
    ax2.set_ylim(*p['plim'])
    ax2.tick_params(axis='y', which='major', colors=BLUE, labelsize=5.5, length=2.5,
                    width=0.6, pad=1)
    ax2.tick_params(axis='y', which='minor', colors=BLUE, length=1.3, width=0.5)
    ax2.text(0.995, p['r_y'], p['r'], color=BLUE, fontsize=14, ha='right', va='top',
             transform=ax2.transAxes)
    ax2.text(p['lab_xy'][0], p['lab_xy'][1], p['plabel'], color=BLUE,
             fontsize=12.5 if p['plabel'].startswith('Aug') else 14,
             rotation=90, ha='center', va='center', linespacing=1.1,
             transform=ax2.transAxes)

    # sample depth
    axd.fill_between(p['nx'], 0, p['nv'], color='#c0c0c0', lw=0)
    axd.set_xlim(1920, 2020)
    axd.set_ylim(*p['nlim'])
    axd.spines['top'].set_visible(False)
    axd.spines['left'].set_visible(False)
    axd.spines['right'].set_linewidth(0.7)
    axd.spines['bottom'].set_linewidth(0.8)
    axd.yaxis.tick_right()
    axd.set_yticks(p['nticks'])
    axd.tick_params(axis='y', labelsize=5.5, length=2, width=0.6, pad=1)
    axd.xaxis.set_major_locator(MultipleLocator(20))
    axd.xaxis.set_minor_locator(MultipleLocator(10))
    axd.tick_params(axis='x', which='major', labelsize=10.5, length=3.5, width=0.7, pad=2)
    axd.tick_params(axis='x', which='minor', length=2, width=0.6)
    axd.text(0.975, 0.2, p['ntext'], fontsize=12, ha='right', va='baseline',
             transform=axd.transAxes)
    axd.text(1.09, 0.5, 'n', fontsize=14, rotation=90, ha='center', va='center',
             transform=axd.transAxes)

# column headers and shared labels
for x, title in [(0.1575, 'Width'), (0.486, 'Density'), (0.803, 'Isotope/Chemistry')]:
    fig.text(x, 0.956, title, fontsize=28.5, ha='center', va='baseline')
for x in (0.154, 0.477, 0.802):
    fig.text(x, 0.008, 'Year', fontsize=16, ha='center', va='baseline')
fig.text(0.979, 0.435, 'Precipitation', color=BLUE, fontsize=23, rotation=90,
         ha='center', va='center')

fig.savefig('out.png', dpi=100)
